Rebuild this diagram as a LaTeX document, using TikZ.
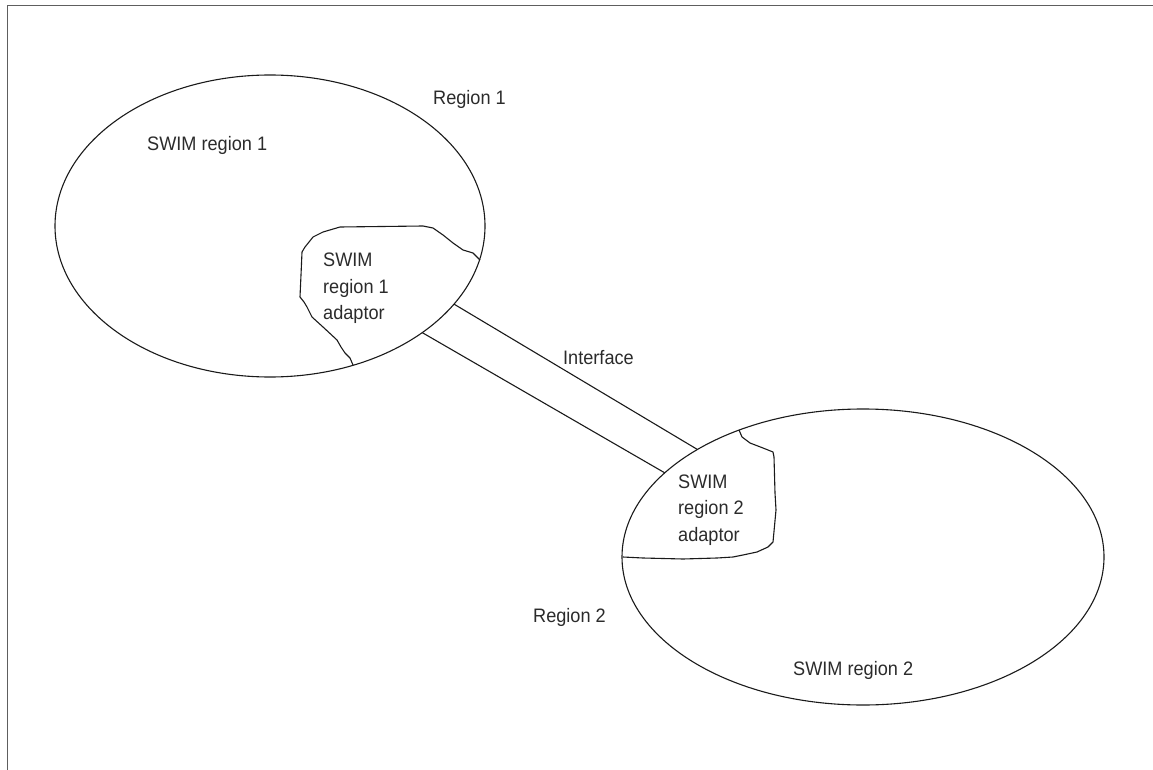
\documentclass[tikz,border=0pt]{standalone}
\usepackage{fontspec}
\newfontfamily\lab[FakeStretch=0.93]{Liberation Sans}
\usetikzlibrary{shapes.geometric}
\definecolor{txt}{HTML}{2B2B2B}
\definecolor{ln}{HTML}{1A1A1A}
\definecolor{frm}{HTML}{5E5E5E}
\begin{document}
\begin{tikzpicture}[x=1pt,y=-1pt,
  lbl/.style={inner sep=0pt, font=\lab\fontsize{19.5}{26.5}\selectfont, text=txt},
  region/.style={ellipse, draw=ln, line width=1.1pt, inner sep=0pt, outer sep=0pt},
  edge/.style={draw=ln, line width=1.1pt},
  blob/.style={draw=ln, line width=1.1pt, line join=round}]
\useasboundingbox (0,0) rectangle (1153,770);
% frame
\draw[frm, line width=1.6pt] (1153,5.5) -- (7.5,5.5) -- (7.5,770);
% regions
\node[region, minimum width=430pt, minimum height=302pt] (e1) at (270,226) {};
\node[region, minimum width=482pt, minimum height=296pt] (e2) at (863,557) {};
% interface
\draw[edge] (e1.-23.1) -- (e2.147.8);
\draw[edge] (e1.-35.0) -- (e2.157.8);
% adaptor 1 boundary
\draw[blob] (480,260) -- (473,253) -- (463,250) -- (453,243) -- (443,235) -- (433,228)
  -- (423,226) -- (340,227) -- (323,232) -- (313,237) -- (305,247) -- (302,252)
  -- (301,275) -- (300,297) -- (304,302) -- (307,307) -- (312,317) -- (323,327)
  -- (337,340) -- (341,347) -- (345,353) -- (350,358) -- (353,365);
% adaptor 2 boundary
\draw[blob] (739,430) -- (742,437) -- (750,443) -- (763,448) -- (773,452) -- (774,457)
  -- (775,493) -- (776,510) -- (773,542) -- (768,547) -- (757,552) -- (743,555)
  -- (733,557) -- (717,558) -- (683,559) -- (643,558) -- (623,557);
% labels
\node[lbl, anchor=base west] (r1) at (433,105) {Region 1};
\node[lbl, anchor=base west] (s1) at (147,151) {SWIM region 1};
\node[lbl, anchor=west, align=left] (a1) at (323,288.5) {SWIM\\region 1\\adaptor};
\node[lbl, anchor=base west] (if) at (563,364) {Interface};
\node[lbl, anchor=west, align=left] (a2) at (678,510) {SWIM\\region 2\\adaptor};
\node[lbl, anchor=base west] (r2) at (533,622) {Region 2};
\node[lbl, anchor=base west] (s2) at (793,675) {SWIM region 2};
\end{tikzpicture}
\end{document}
